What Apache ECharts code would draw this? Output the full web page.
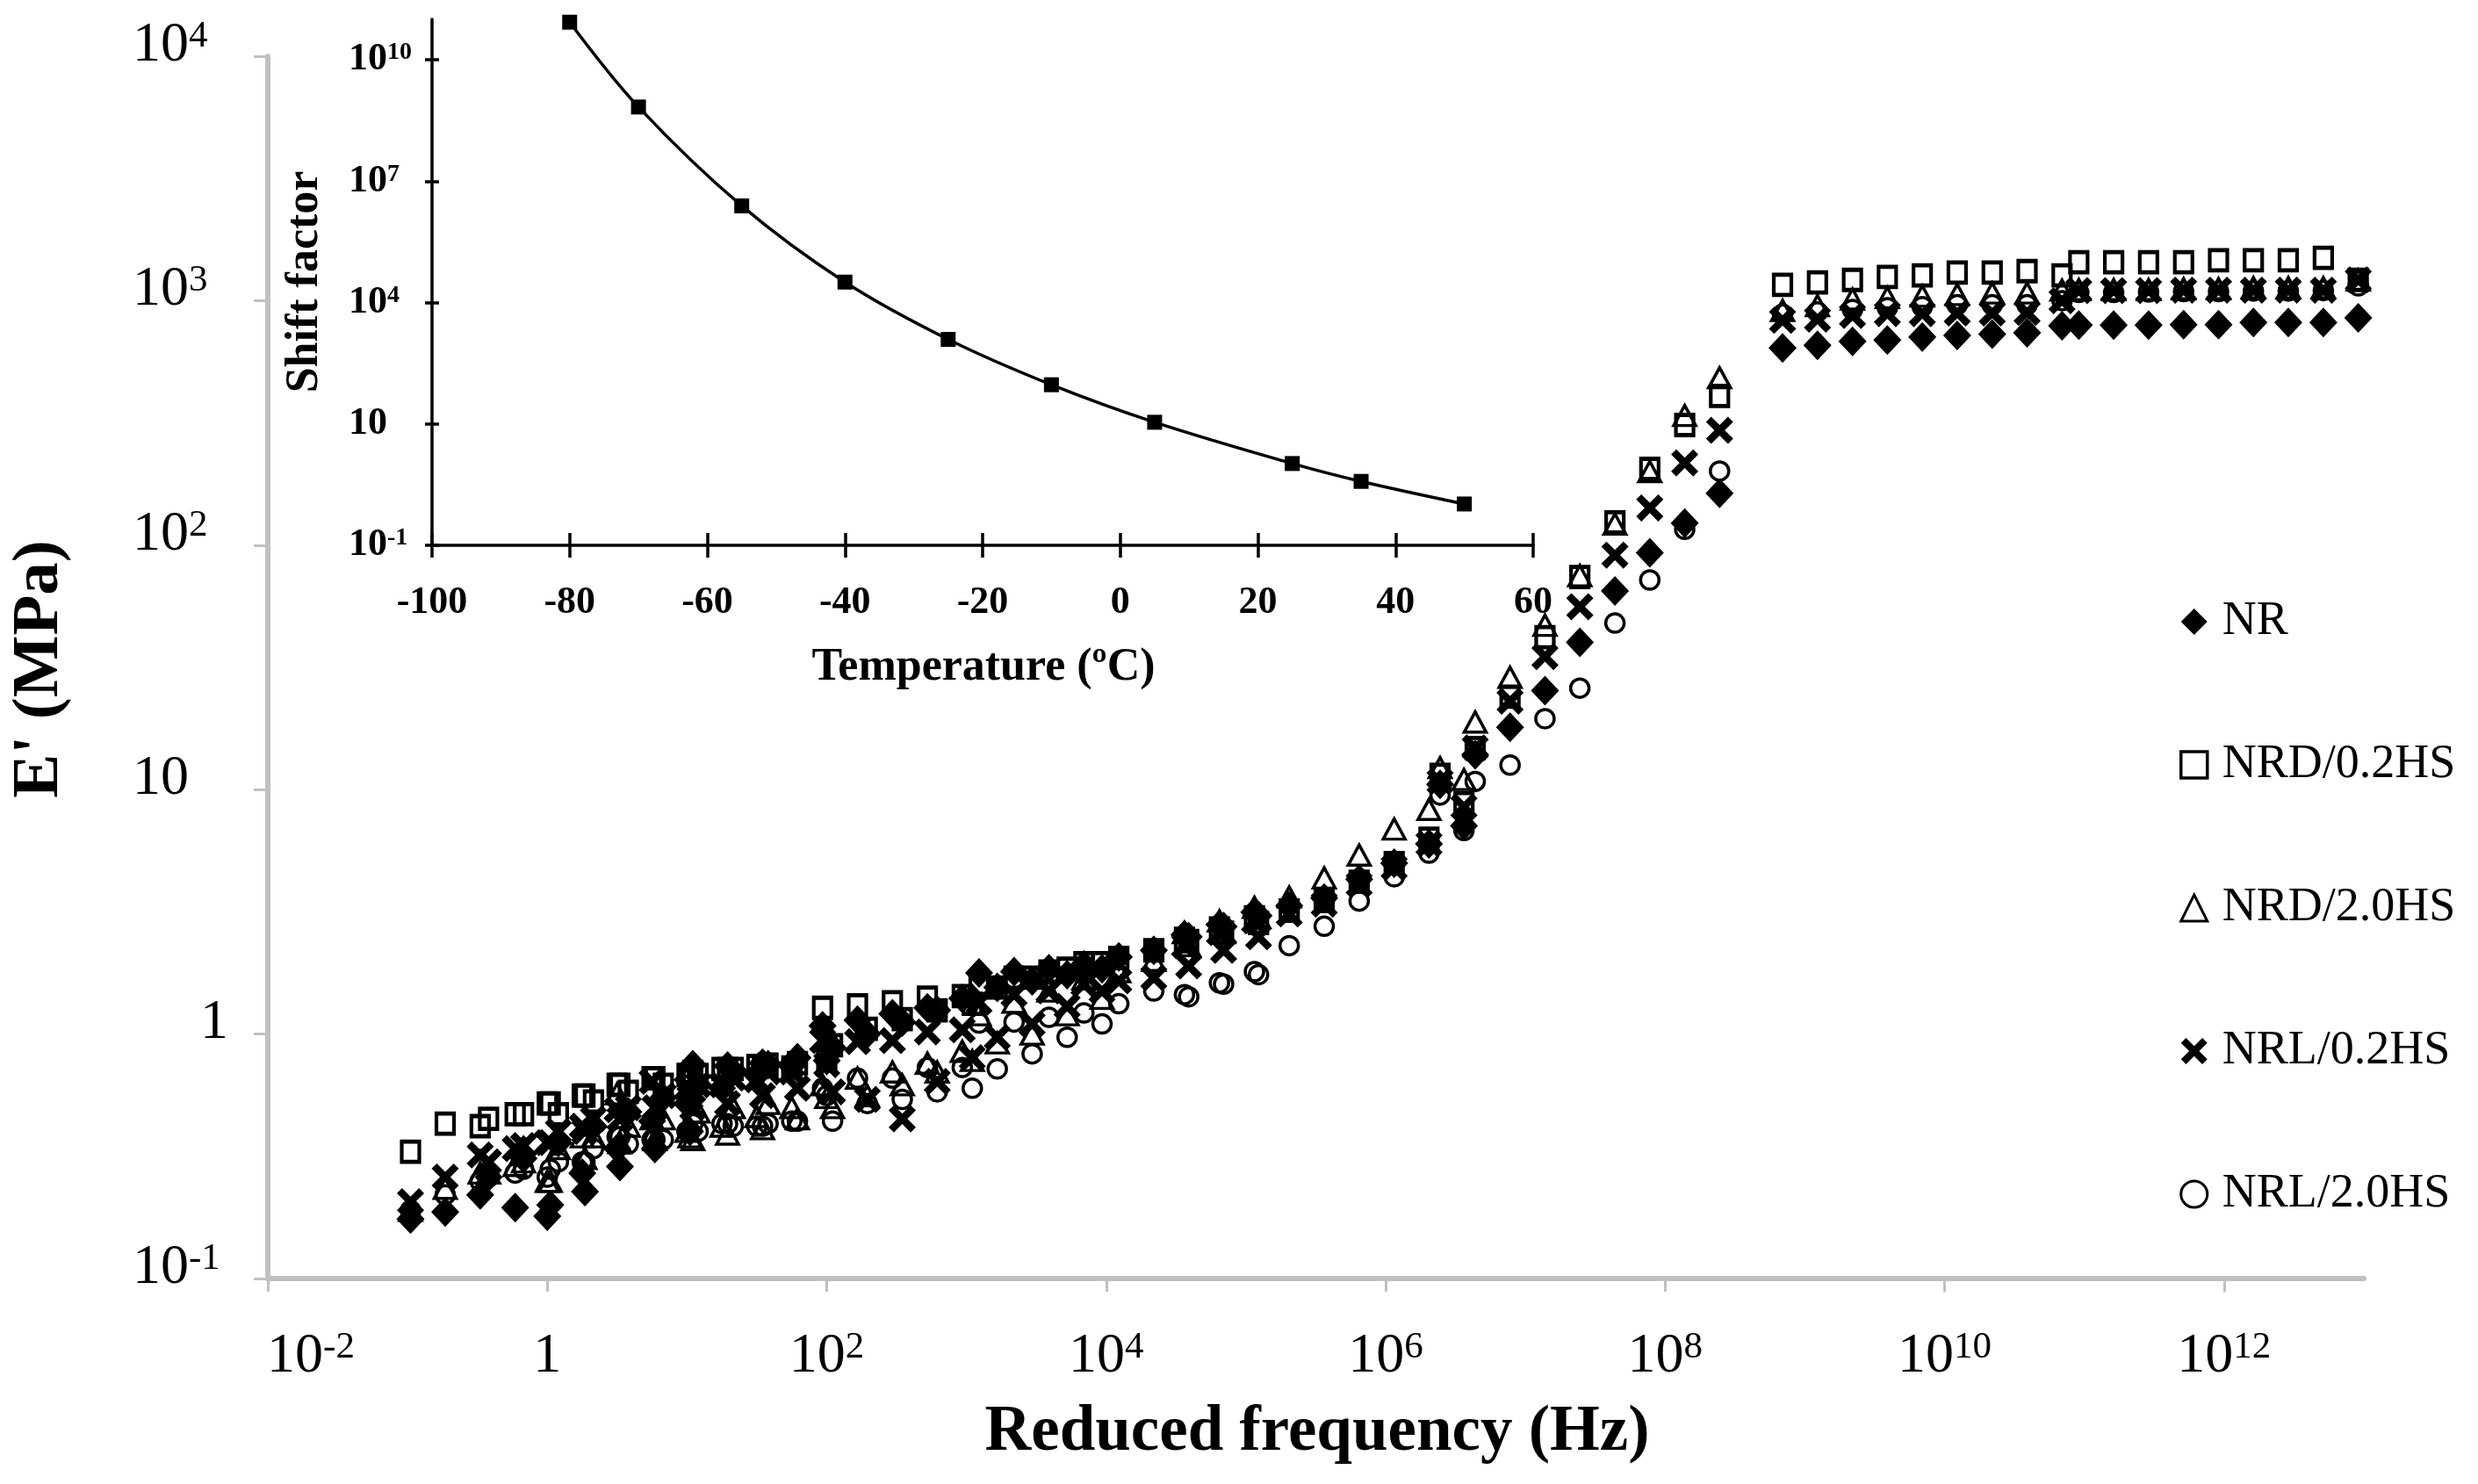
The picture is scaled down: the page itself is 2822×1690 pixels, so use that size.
<!DOCTYPE html>
<html><head><meta charset="utf-8">
<script src="https://cdn.jsdelivr.net/npm/echarts@6/dist/echarts.min.js"></script>
<style>html,body{margin:0;padding:0;background:#fff}#c{width:2822px;height:1690px}</style>
</head><body><div id="c"></div>
<script>
// ---------- DATA ----------
const seriesNames = ['NR', 'NRD/0.2HS', 'NRD/2.0HS', 'NRL/0.2HS', 'NRL/2.0HS'];

// reduced frequency (Hz), grouped by test temperature: 50, 35, 25, 5, -10, -25, -40, -55, -70, -80 °C
const reducedFreq = [
  0.105, 0.186, 0.331, 0.589, 1.05, 1.86, 3.31, 5.89, 10.5,
  0.38, 0.676, 1.2, 2.14, 3.8, 6.76, 12.0, 21.4, 38.0,
  1, 1.78, 3.16, 5.62, 10, 17.8, 31.6, 56.2, 100,
  11.0, 19.5, 34.7, 61.7, 110, 195, 347, 617, 1100,
  93.3, 166, 295, 525, 933, 1660, 2950, 5250, 9330,
  1230, 2190, 3890, 6920, 12300, 21900, 38900, 69200, 123000,
  36300, 64600, 115000, 204000, 363000, 646000, 1150000, 2040000, 3630000,
  2.45e6, 4.37e6, 7.76e6, 1.38e7, 2.45e7, 4.37e7, 7.76e7, 1.38e8, 2.45e8,
  6.92e8, 1.23e9, 2.19e9, 3.89e9, 6.92e9, 1.23e10, 2.19e10, 3.89e10, 6.92e10,
  9.12e10, 1.62e11, 2.88e11, 5.13e11, 9.12e11, 1.62e12, 2.88e12, 5.13e12, 9.12e12
];

const storageNR = [
  0.175, 0.187, 0.22, 0.195, 0.20, 0.227, 0.287, 0.34, 0.40,
  0.26, 0.31, 0.36, 0.42, 0.48, 0.55, 0.62, 0.70, 0.75,
  0.18, 0.27, 0.34, 0.44, 0.52, 0.60, 0.68, 0.74, 0.78,
  0.75, 0.74, 0.76, 0.80, 0.88, 1.00, 1.12, 1.25, 1.40,
  1.08, 1.14, 1.21, 1.28, 1.40, 1.55, 1.65, 1.75, 1.85,
  1.78, 1.80, 1.85, 1.92, 2.07, 2.20, 2.50, 2.75, 3.05,
  2.55, 2.80, 3.15, 3.35, 3.60, 4.30, 5.00, 6.00, 7.10,
  10.5, 13.9, 18, 25.4, 40, 65, 93, 123, 163,
  641, 656, 682, 690, 710, 720, 729, 739, 790,
  794, 794, 794, 797, 797, 815, 815, 815, 851
];
const storageNRD02 = [
  0.33, 0.43, 0.42, 0.47, 0.52, 0.56, 0.62, 0.66, 0.68,
  0.45, 0.47, 0.47, 0.53, 0.58, 0.62, 0.68, 0.72, 0.75,
  0.52, 0.56, 0.62, 0.66, 0.68, 0.72, 0.74, 0.73, 0.78,
  0.70, 0.72, 0.74, 0.76, 0.90, 1.05, 1.15, 1.25, 1.33,
  1.28, 1.31, 1.35, 1.41, 1.43, 1.55, 1.70, 1.85, 1.95,
  1.60, 1.70, 1.80, 1.95, 2.05, 2.20, 2.40, 2.60, 2.85,
  2.45, 2.70, 3.00, 3.20, 3.50, 4.20, 5.00, 6.30, 8.80,
  11.5, 14.8, 24, 42, 74, 124, 205, 310, 408,
  1161, 1188, 1216, 1250, 1268, 1303, 1303, 1321, 1268,
  1436, 1436, 1436, 1436, 1463, 1463, 1463, 1496, 1216
];
const storageNRD20 = [
  0.19, 0.234, 0.27, 0.29, 0.25, 0.31, 0.36, 0.37, 0.38,
  0.27, 0.30, 0.34, 0.38, 0.42, 0.45, 0.48, 0.50, 0.52,
  0.25, 0.38, 0.57, 0.45, 0.40, 0.42, 0.46, 0.50, 0.55,
  0.37, 0.39, 0.41, 0.45, 0.50, 0.56, 0.62, 0.70, 0.78,
  0.62, 0.66, 0.70, 0.76, 0.85, 0.92, 1.00, 1.20, 1.40,
  1.20, 1.35, 1.50, 1.68, 1.80, 2.00, 2.30, 2.60, 3.00,
  2.60, 2.90, 3.30, 3.64, 4.35, 5.40, 6.90, 8.30, 11.0,
  12.3, 18.9, 28.8, 47, 75, 122, 200, 339, 484,
  912, 955, 1016, 1030, 1045, 1060, 1075, 1075, 1104,
  1110, 1110, 1110, 1120, 1120, 1130, 1130, 1130, 1216
];
const storageNRL02 = [
  0.206, 0.26, 0.32, 0.34, 0.36, 0.40, 0.45, 0.50, 0.55,
  0.30, 0.35, 0.40, 0.45, 0.50, 0.56, 0.62, 0.66, 0.70,
  0.36, 0.42, 0.49, 0.64, 0.60, 0.62, 0.65, 0.70, 0.75,
  0.50, 0.52, 0.56, 0.60, 0.58, 0.54, 0.45, 0.64, 0.80,
  0.94, 0.93, 0.94, 1.02, 1.04, 0.97, 1.10, 1.30, 1.50,
  1.35, 1.45, 1.50, 1.60, 1.65, 1.70, 1.90, 2.20, 2.50,
  2.30, 2.60, 2.90, 3.10, 3.40, 4.10, 4.80, 6.00, 8.50,
  10.8, 14.8, 23, 35, 56, 91, 142, 217, 295,
  831, 840, 870, 885, 885, 890, 890, 895, 1000,
  1100, 1100, 1100, 1104, 1104, 1104, 1104, 1104, 1216
];
const storageNRL20 = [
  0.19, 0.22, 0.25, 0.27, 0.28, 0.30, 0.38, 0.37, 0.40,
  0.26, 0.28, 0.30, 0.34, 0.355, 0.37, 0.40, 0.42, 0.43,
  0.26, 0.30, 0.38, 0.37, 0.40, 0.43, 0.42, 0.44, 0.56,
  0.43, 0.43, 0.42, 0.44, 0.44, 0.52, 0.54, 0.58, 0.60,
  0.60, 0.66, 0.66, 0.73, 0.73, 0.72, 0.83, 0.97, 1.10,
  1.11, 1.12, 1.17, 1.22, 1.33, 1.50, 1.42, 1.60, 1.75,
  1.45, 1.62, 1.80, 2.30, 2.76, 3.50, 4.40, 5.50, 6.80,
  9.5, 10.8, 12.6, 19.5, 26, 48, 72, 116, 201,
  880, 900, 920, 935, 945, 962, 962, 962, 1000,
  1080, 1080, 1085, 1090, 1090, 1095, 1095, 1100, 1150
];

const xTickValues = [0.01, 1, 100, 1e4, 1e6, 1e8, 1e10, 1e12];
const xTickLabels = ['10^-2', '1', '10^2', '10^4', '10^6', '10^8', '10^10', '10^12'];
const yTickValues = [0.1, 1, 10, 100, 1000, 10000];
const yTickLabels = ['10^-1', '1', '10', '10^2', '10^3', '10^4'];

// inset: shift factor vs temperature
const insetTemperature = [-80, -70, -55, -40, -25, -10, 5, 25, 35, 50];
const insetShiftFactor = [8.5e10, 6.8e8, 2.45e6, 3.2e4, 1230, 93, 11, 1.05, 0.38, 0.105];
const insetYTickValues = [0.01, 10, 1e4, 1e7, 1e10];
const insetYTickLabels = ['10^-1', '10', '10^4', '10^7', '10^10'];

// ---------- CHART ----------
const FONT = "'Liberation Serif', 'Times New Roman', serif";
const chart = echarts.init(document.getElementById('c'), null, {renderer: 'canvas'});

function findLabel(values, labels, v) {
  for (let i = 0; i < values.length; i++) {
    if (Math.abs(Math.log10(values[i]) - Math.log10(v)) < 1e-6) return labels[i];
  }
  return null;
}
function toRich(label, baseKey, supKey) {
  const parts = label.split('^');
  return parts.length > 1 ? '{' + baseKey + '|' + parts[0] + '}{' + supKey + '|' + parts[1] + '}' : '{' + baseKey + '|' + parts[0] + '}';
}

const X_PATH = 'path://M0,1.9L1.9,0L5,3.1L8.1,0L10,1.9L6.9,5L10,8.1L8.1,10L5,6.9L1.9,10L0,8.1L3.1,5Z';
const HOLLOW = {color: 'rgba(0,0,0,0)', borderColor: '#000', borderWidth: 3.5, opacity: 1};
const defs = [
  {name: seriesNames[0], values: storageNR, symbol: 'diamond', size: [32, 34], style: {color: '#000', opacity: 1}},
  {name: seriesNames[1], values: storageNRD02, symbol: 'rect', size: [20, 23], style: {color: 'rgba(0,0,0,0)', borderColor: '#000', borderWidth: 4.5, opacity: 1}},
  {name: seriesNames[2], values: storageNRD20, symbol: 'triangle', size: [25, 23], style: HOLLOW},
  {name: seriesNames[3], values: storageNRL02, symbol: X_PATH, size: [31, 31], style: {color: '#000', opacity: 1}},
  {name: seriesNames[4], values: storageNRL20, symbol: 'circle', size: [21, 21], style: HOLLOW}
];

const mainSeries = defs.map(d => ({
  name: d.name,
  type: 'scatter',
  xAxisIndex: 0, yAxisIndex: 0,
  symbol: d.symbol,
  symbolSize: d.size,
  itemStyle: d.style,
  data: reducedFreq.map((f, i) => [f, d.values[i]]),
  silent: true,
  large: false,
  z: 3
}));

const mainLabelStyle = {
  b: {fontFamily: FONT, fontSize: 64, color: '#000', lineHeight: 64},
  s: {fontFamily: FONT, fontSize: 43, color: '#000', verticalAlign: 'top', lineHeight: 43},
  b1: {fontFamily: FONT, fontSize: 64, color: '#000', lineHeight: 64, padding: [0, 0, 0, 77]},
  b0: {fontFamily: FONT, fontSize: 64, color: '#000', lineHeight: 64, padding: [0, 0, 0, 98]}
};
const insetLabelStyle = {
  b: {fontFamily: FONT, fontSize: 44, fontWeight: 'bold', color: '#000', lineHeight: 44},
  s: {fontFamily: FONT, fontSize: 28, fontWeight: 'bold', color: '#000', verticalAlign: 'top', lineHeight: 28}
};

const GRAY = '#c0c0c0';
const option = {
  animation: false,
  backgroundColor: '#fff',
  textStyle: {fontFamily: FONT},
  grid: [
    {left: 305, right: 130, top: 64, bottom: 234, containLabel: false, outerBoundsMode: 'none'},
    {left: 492, right: 1076, top: 22, bottom: 1069, containLabel: false, outerBoundsMode: 'none'}
  ],
  legend: {
    orient: 'vertical',
    left: 2477, top: 676,
    itemWidth: 30, itemHeight: 30,
    itemGap: 109,
    selectedMode: false,
    textStyle: {fontFamily: FONT, fontSize: 54, color: '#000', padding: [0, 0, 0, 12]},
    data: [
      {name: seriesNames[0], itemStyle: {color: '#000', borderWidth: 0, opacity: 1}},
      {name: seriesNames[1], itemStyle: {color: 'rgba(0,0,0,0)', borderColor: '#000', borderWidth: 3.5, opacity: 1}},
      {name: seriesNames[2], itemStyle: {color: 'rgba(0,0,0,0)', borderColor: '#000', borderWidth: 3, opacity: 1}},
      {name: seriesNames[3], itemStyle: {color: '#000', borderWidth: 0, opacity: 1}},
      {name: seriesNames[4], itemStyle: {color: 'rgba(0,0,0,0)', borderColor: '#000', borderWidth: 3, opacity: 1}}
    ]
  },
  xAxis: [
    {
      gridIndex: 0, type: 'log', logBase: 10, min: 0.01, max: 1e13, position: 'bottom',
      axisLine: {show: true, onZero: false, lineStyle: {color: GRAY, width: 6}},
      axisTick: {show: true, length: 15, lineStyle: {color: GRAY, width: 3}, customValues: xTickValues},
      axisLabel: {
        customValues: xTickValues, margin: 57, hideOverlap: false,
        formatter: v => {
          const l = findLabel(xTickValues, xTickLabels, v);
          if (l === null) return '';
          if (v === xTickValues[0]) return toRich(l, 'b0', 's');
          return toRich(l, 'b', 's');
        },
        rich: mainLabelStyle
      },
      splitLine: {show: false}, minorTick: {show: false}
    },
    {
      gridIndex: 1, type: 'value', min: -100, max: 60, interval: 20, position: 'bottom',
      axisLine: {show: true, onZero: false, lineStyle: {color: '#000', width: 3.5}},
      axisTick: {show: true, length: 14, lineStyle: {color: '#000', width: 3.5}},
      axisLabel: {margin: 44, fontFamily: FONT, fontSize: 44, fontWeight: 'bold', color: '#000', hideOverlap: false,
        showMinLabel: true, showMaxLabel: true},
      splitLine: {show: false}
    },
    {
      gridIndex: 1, type: 'value', min: -100, max: 60, interval: 20, position: 'bottom',
      axisLine: {show: false, onZero: false},
      axisTick: {show: true, inside: true, length: 14, lineStyle: {color: '#000', width: 3.5}},
      axisLabel: {show: false},
      splitLine: {show: false}
    }
  ],
  yAxis: [
    {
      gridIndex: 0, type: 'log', logBase: 10, min: 0.1, max: 1e4, position: 'left',
      axisLine: {show: true, onZero: false, lineStyle: {color: GRAY, width: 6}},
      axisTick: {show: true, length: 16, lineStyle: {color: GRAY, width: 3}, customValues: yTickValues},
      axisLabel: {
        customValues: yTickValues, margin: 154, align: 'left', padding: [0, 0, 24, 0], hideOverlap: false,
        formatter: v => {
          const l = findLabel(yTickValues, yTickLabels, v);
          if (l === null) return '';
          if (l === '1') return '{b1|1}';
          return toRich(l, 'b', 's');
        },
        rich: mainLabelStyle
      },
      splitLine: {show: false}, minorTick: {show: false}
    },
    {
      gridIndex: 1, type: 'log', logBase: 10, min: 0.01, max: 1e11, position: 'left',
      axisLine: {show: true, onZero: false, lineStyle: {color: '#000', width: 3.5}},
      axisTick: {show: true, length: 8, lineStyle: {color: '#000', width: 3.5}, customValues: insetYTickValues},
      axisLabel: {
        customValues: insetYTickValues, margin: 95, align: 'left', hideOverlap: false,
        formatter: v => {
          const l = findLabel(insetYTickValues, insetYTickLabels, v);
          return l === null ? '' : toRich(l, 'b', 's');
        },
        rich: insetLabelStyle
      },
      splitLine: {show: false}, minorTick: {show: false}
    },
    {
      gridIndex: 1, type: 'log', logBase: 10, min: 0.01, max: 1e11, position: 'left',
      axisLine: {show: false, onZero: false},
      axisTick: {show: true, inside: true, length: 8, lineStyle: {color: '#000', width: 3.5}, customValues: insetYTickValues},
      axisLabel: {show: false},
      splitLine: {show: false}, minorTick: {show: false}
    }
  ],
  graphic: [
    {type: 'text', x: 46, y: 762, rotation: Math.PI / 2, silent: true,
      style: {text: "E' (MPa)", font: "bold 75px " + FONT, fill: '#000', align: 'center', verticalAlign: 'middle'}},
    {type: 'text', x: 1500, y: 1632, silent: true,
      style: {text: 'Reduced frequency (Hz)', font: "bold 73px " + FONT, fill: '#000', align: 'center', verticalAlign: 'middle'}},
    {type: 'text', x: 348, y: 321, rotation: Math.PI / 2, silent: true,
      style: {text: 'Shift factor', font: "bold 52px " + FONT, fill: '#000', align: 'center', verticalAlign: 'middle'}},
    {type: 'text', x: 1120, y: 761, silent: true,
      style: {text: 'Temperature (ºC)', font: "bold 52px " + FONT, fill: '#000', align: 'center', verticalAlign: 'middle'}}
  ],
  series: mainSeries.concat([{
    name: 'Shift factor',
    type: 'line',
    xAxisIndex: 1, yAxisIndex: 1,
    smooth: 0.35,
    symbol: 'rect', symbolSize: 17,
    lineStyle: {color: '#000', width: 3.5},
    itemStyle: {color: '#000', opacity: 1},
    data: insetTemperature.map((t, i) => [t, insetShiftFactor[i]]),
    silent: true,
    z: 5
  }])
};
chart.setOption(option);
</script>
</body></html>
